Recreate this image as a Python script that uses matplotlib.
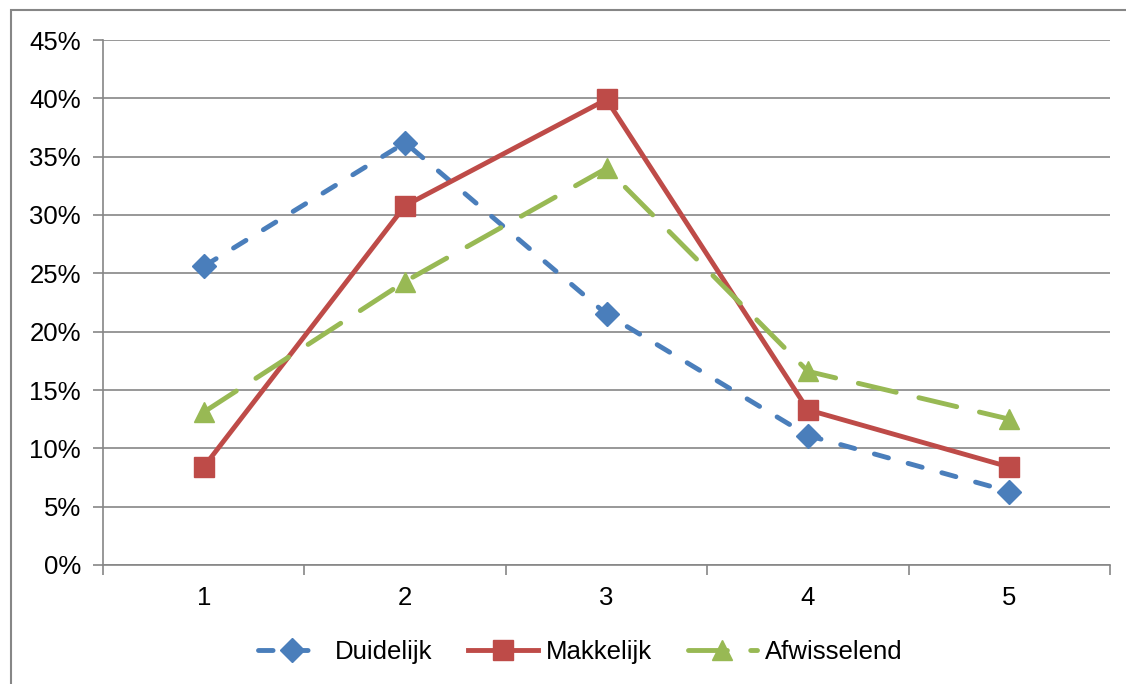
import matplotlib.pyplot as plt
from matplotlib.patches import Rectangle
from matplotlib.ticker import FuncFormatter

# values (fractions)
categories = [1, 2, 3, 4, 5]
duidelijk = [0.256, 0.362, 0.215, 0.111, 0.063]
makkelijk = [0.084, 0.308, 0.399, 0.133, 0.084]
afwisselend = [0.131, 0.243, 0.340, 0.166, 0.125]
series_names = ["Duidelijk", "Makkelijk", "Afwisselend"]

plt.rcParams['font.family'] = ['Liberation Sans', 'DejaVu Sans']

fig = plt.figure(figsize=(11.26, 6.84), dpi=100)
ax = fig.add_axes([103 / 1126, 1 - 565 / 684, 1007 / 1126, 525 / 684])

ax.plot(categories, duidelijk, color='#4A7EBB', lw=3.5, dashes=(3.0, 4.2),
        dash_capstyle='round', marker='D', markersize=12,
        label=series_names[0])
ax.plot(categories, makkelijk, color='#BE4B48', lw=3.5, marker='s',
        markersize=15, label=series_names[1])
ax.plot(categories, afwisselend, color='#98B954', lw=3.5, dashes=(8.0, 4.8),
        dash_capstyle='round', marker='^', markersize=15,
        label=series_names[2])

ax.set_xlim(0.5, 5.5)
ax.set_ylim(0, 0.45)
ax.set_yticks([i * 0.05 for i in range(10)])
ax.yaxis.set_major_formatter(FuncFormatter(lambda v, p: "%d%%" % round(v * 100)))
ax.set_xticks(categories)
ax.set_xticks([0.5, 1.5, 2.5, 3.5, 4.5, 5.5], minor=True)
ax.tick_params(axis='x', which='major', length=0, pad=15, labelsize=18.5)
ax.tick_params(axis='x', which='minor', length=7, width=1.2, color='#868686',
               direction='out')
ax.tick_params(axis='y', length=7, width=1.2, color='#868686', labelsize=18.5,
               pad=9)
ax.grid(axis='y', color='#868686', lw=1.2)
ax.set_axisbelow(True)
for s in ['top', 'right']:
    ax.spines[s].set_visible(False)
for s in ['left', 'bottom']:
    ax.spines[s].set_color('#868686')
    ax.spines[s].set_linewidth(1.2)

ax.legend(loc='center', bbox_to_anchor=(580 / 1126, 1 - 652 / 684),
          bbox_transform=fig.transFigure, ncol=3, frameon=False, fontsize=18.5,
          handlelength=2.7, columnspacing=1.4, handletextpad=0.3)

# outer chart border
fig.patches.append(Rectangle((11 / 1126, -0.1), 1.2, 1 - 10 / 684 + 0.1,
                             transform=fig.transFigure, fill=False,
                             edgecolor='#868686', lw=1.5, clip_on=False))

fig.savefig('out.png', dpi=100)
